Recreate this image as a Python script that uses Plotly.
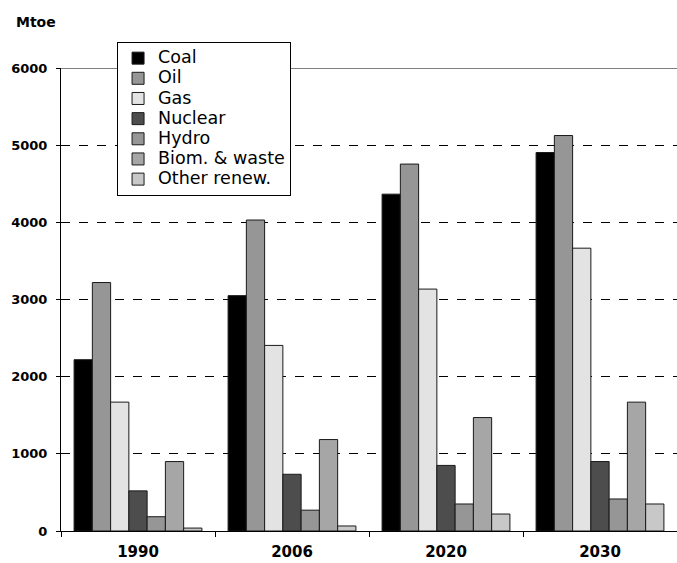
import plotly.graph_objects as go

years = ["1990", "2006", "2020", "2030"]
coal = [2220, 3050, 4365, 4905]
oil = [3220, 4030, 4755, 5125]
gas = [1670, 2405, 3135, 3665]
nuclear = [520, 735, 850, 900]
hydro = [185, 270, 350, 415]
biomass = [900, 1185, 1470, 1670]
other = [38, 65, 220, 350]

series_names = ["Coal", "Oil", "Gas", "Nuclear", "Hydro", "Biom. & waste", "Other renew."]
series_values = [coal, oil, gas, nuclear, hydro, biomass, other]
series_colors = ["#000000", "#969696", "#e3e3e3", "#4d4d4d", "#969696", "#a6a6a6", "#c8c8c8"]

fig = go.Figure()
for name, vals, col in zip(series_names, series_values, series_colors):
    fig.add_trace(go.Bar(
        x=years, y=vals,
        name="<span style='font-size:17.5px'>" + name + "</span>",
        marker=dict(color=col, line=dict(color="#1a1a1a", width=1)),
    ))

fig.add_shape(type="line", xref="paper", yref="y", x0=0, x1=1, y0=6000, y1=6000,
              line=dict(color="black", width=1), layer="above")

fig.add_annotation(text="<b>Mtoe</b>", xref="paper", yref="paper", x=-0.077, y=1.099,
                   xanchor="left", yanchor="middle", showarrow=False,
                   font=dict(family="DejaVu Sans", size=14, color="black"))

fig.update_layout(
    width=677, height=563,
    margin=dict(l=61, r=0, t=68, b=32),
    paper_bgcolor="white", plot_bgcolor="white",
    barmode="group", bargap=0.17, bargroupgap=0,
    font=dict(family="DejaVu Sans", color="black"),
    legend=dict(
        x=0.091, y=1.056, xanchor="left", yanchor="top",
        bgcolor="white", bordercolor="black", borderwidth=1,
        font=dict(family="DejaVu Sans", size=13.2, color="black"),
        tracegroupgap=0, itemclick=False,
    ),
    showlegend=True,
)
fig.update_xaxes(
    type="category", showline=True, linecolor="black", linewidth=1,
    ticks="outside", tickson="boundaries", ticklen=5, tickcolor="black",
    tickfont=dict(family="DejaVu Sans", size=15, color="black"),
    ticklabelstandoff=7, showgrid=False,
)
fig.update_yaxes(
    range=[0, 6000], dtick=1000, showline=True, linecolor="black", linewidth=1,
    ticks="outside", ticklen=4, tickcolor="black",
    showgrid=True, gridcolor="black", gridwidth=1, griddash="dash", zeroline=False,
    tickfont=dict(family="DejaVu Sans", size=13, color="black"),
    tickformat="d", ticklabelstandoff=6,
)
fig.for_each_xaxis(lambda a: a.update(tickfont_weight="bold"))
fig.for_each_yaxis(lambda a: a.update(tickfont_weight="bold"))

fig.write_html(
    "out.html",
    config={"displayModeBar": False},
    post_script="document.body.style.margin='0';document.body.style.overflow='hidden';",
)
